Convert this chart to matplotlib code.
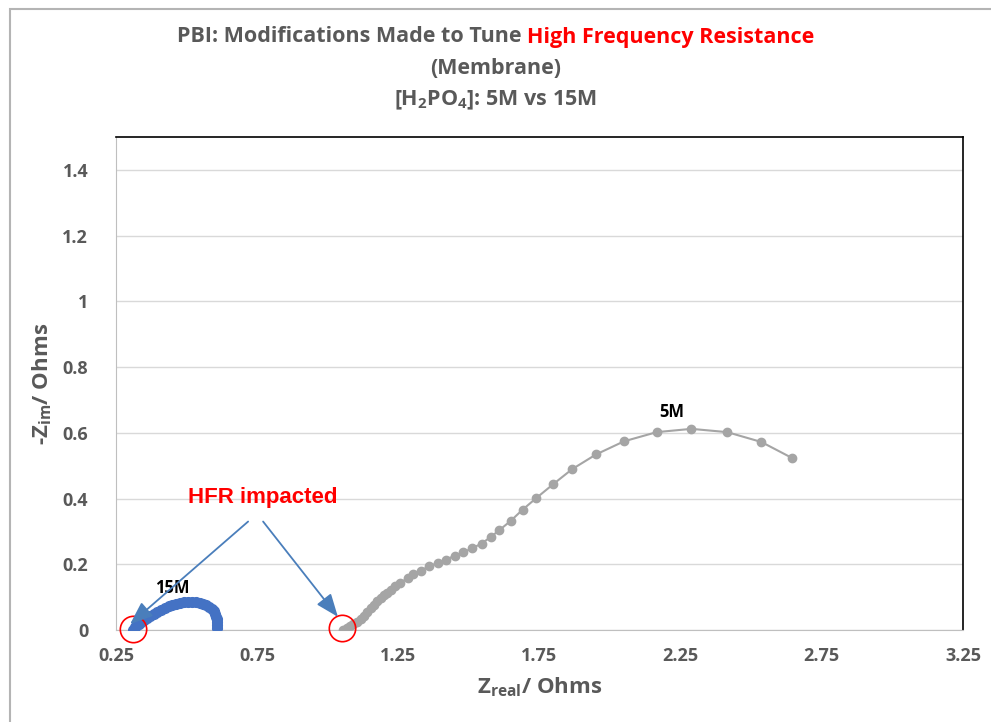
import matplotlib
matplotlib.use("Agg")
import matplotlib.pyplot as plt
from matplotlib.patches import Rectangle

# --- Data ---
z_real_15m = [0.310, 0.316, 0.323, 0.331, 0.340, 0.350, 0.361, 0.372, 0.384, 0.396,
              0.409, 0.422, 0.436, 0.450, 0.464, 0.478, 0.492, 0.506, 0.520, 0.533,
              0.546, 0.558, 0.570, 0.580, 0.589, 0.596, 0.601, 0.604, 0.606, 0.607,
              0.608, 0.608]
z_im_15m = [0.000, 0.008, 0.014, 0.019, 0.025, 0.031, 0.038, 0.044, 0.050, 0.056,
            0.062, 0.067, 0.072, 0.076, 0.080, 0.083, 0.085, 0.086, 0.086, 0.084,
            0.082, 0.079, 0.075, 0.070, 0.065, 0.058, 0.050, 0.041, 0.032, 0.023,
            0.014, 0.006]

z_real_5m = [1.054, 1.067, 1.079, 1.090, 1.104, 1.116, 1.128, 1.140, 1.152, 1.164,
             1.175, 1.187, 1.199, 1.211, 1.225, 1.239, 1.256, 1.285, 1.303, 1.330,
             1.360, 1.389, 1.419, 1.449, 1.480, 1.512, 1.545, 1.577, 1.608, 1.648,
             1.690, 1.738, 1.799, 1.865, 1.950, 2.049, 2.165, 2.288, 2.415, 2.536,
             2.643]
z_im_5m = [0.000, 0.007, 0.013, 0.018, 0.025, 0.034, 0.043, 0.054, 0.066, 0.077,
           0.088, 0.097, 0.105, 0.114, 0.123, 0.133, 0.144, 0.158, 0.171, 0.181,
           0.194, 0.204, 0.214, 0.226, 0.236, 0.249, 0.263, 0.283, 0.304, 0.332,
           0.366, 0.401, 0.444, 0.489, 0.534, 0.574, 0.602, 0.612, 0.602, 0.572,
           0.524]

x_ticks = [0.25, 0.75, 1.25, 1.75, 2.25, 2.75, 3.25]
y_ticks = [0, 0.2, 0.4, 0.6, 0.8, 1.0, 1.2, 1.4]
y_tick_labels = ["0", "0.2", "0.4", "0.6", "0.8", "1", "1.2", "1.4"]

# HFR points that get circled
hfr_x = [0.31, 1.05]
hfr_y = [0.003, 0.006]

GRAY_TXT = "#595959"
FONT = ["Open Sans", "DejaVu Sans"]

fig = plt.figure(figsize=(9.91, 7.22), dpi=100)
ax = fig.add_axes([116 / 991, 92 / 722, 847 / 991, 493 / 722])

# outer chart border (top + left edge visible)
fig.patches.append(Rectangle((9.5 / 991, -0.01), 1.1, (722 - 9) / 722 + 0.01,
                             transform=fig.transFigure, fill=False,
                             edgecolor="#B4B4B4", linewidth=1.5))

ax.plot(z_real_5m, z_im_5m, color="#A5A5A5", linewidth=1.5, marker="o",
        markersize=6, zorder=3)
ax.plot(z_real_15m, z_im_15m, color="#4472C4", linewidth=2, marker="o",
        markersize=7, zorder=3)

ax.set_xlim(0.25, 3.25)
ax.set_ylim(0, 1.5)
ax.set_xticks(x_ticks)
ax.set_xticklabels([f"{v:.2f}" for v in x_ticks])
ax.set_yticks(y_ticks)
ax.set_yticklabels(y_tick_labels)
ax.tick_params(length=0, labelsize=13, labelcolor=GRAY_TXT)
ax.tick_params(axis="x", pad=12)
ax.tick_params(axis="y", pad=20)
for lab in ax.get_xticklabels() + ax.get_yticklabels():
    lab.set_fontweight("bold")
    lab.set_family(FONT)

ax.grid(axis="y", color="#D9D9D9", linewidth=1)
ax.set_axisbelow(True)
for side in ["left", "bottom"]:
    ax.spines[side].set_color("#BFBFBF")
for side in ["top", "right"]:
    ax.spines[side].set_color("black")
    ax.spines[side].set_linewidth(1.2)

ax.set_xlabel(r"Z$_\mathregular{real}$/ Ohms", fontsize=16, fontweight="bold",
              color=GRAY_TXT, family=FONT, labelpad=8)
ax.set_ylabel(r"-Z$_\mathregular{im}$/ Ohms", fontsize=16, fontweight="bold",
              color=GRAY_TXT, family=FONT, labelpad=6)

# series labels
ax.text(0.448, 0.128, "15M", fontsize=12, fontweight="bold", ha="center",
        va="center", family=FONT)
ax.text(2.22, 0.663, "5M", fontsize=12, fontweight="bold", ha="center",
        va="center", family=FONT)

# red circles around HFR points
ax.plot(hfr_x, hfr_y, linestyle="none", marker="o", markersize=19,
        markerfacecolor="none", markeredgecolor="red", markeredgewidth=1.2,
        clip_on=False, zorder=4)

# HFR annotation + arrows
ax.text(0.771, 0.404, "HFR impacted", color="red", fontsize=16,
        fontweight="bold", ha="center", va="center", family=["Liberation Sans"])
arrow_kw = dict(arrowstyle="-|>,head_length=1.4,head_width=0.55",
                color="#4A7EBB", linewidth=1.3, shrinkA=0, shrinkB=0)
ax.annotate("", xy=(0.300, 0.018), xytext=(0.718, 0.330), arrowprops=arrow_kw, zorder=5)
ax.annotate("", xy=(1.036, 0.040), xytext=(0.771, 0.330), arrowprops=arrow_kw, zorder=5)

# title: three lines, first one with a red part
title_kw = dict(fontsize=15.5, fontweight="bold", family=FONT, va="center")
part1 = "PBI: Modifications Made to Tune "
part2 = "High Frequency Resistance"
renderer = fig.canvas.get_renderer()
t_full = fig.text(0.5, 1 - 37 / 722, part1 + part2, ha="center", alpha=0, **title_kw)
bb = t_full.get_window_extent(renderer)
t1 = fig.text(bb.x0 / fig.bbox.width, 1 - 37 / 722, part1, ha="left",
              color=GRAY_TXT, **title_kw)
bb1 = t1.get_window_extent(renderer)
fig.text(bb1.x1 / fig.bbox.width, 1 - 37 / 722, part2, ha="left",
         color="red", **title_kw)
t_full.remove()
fig.text(0.5, 1 - 68 / 722, "(Membrane)", ha="center", color=GRAY_TXT, **title_kw)
fig.text(0.5, 1 - 100 / 722, r"[H$_\mathregular{2}$PO$_\mathregular{4}$]: 5M vs 15M",
         ha="center", color=GRAY_TXT, **title_kw)

fig.savefig("out.png", dpi=100)
